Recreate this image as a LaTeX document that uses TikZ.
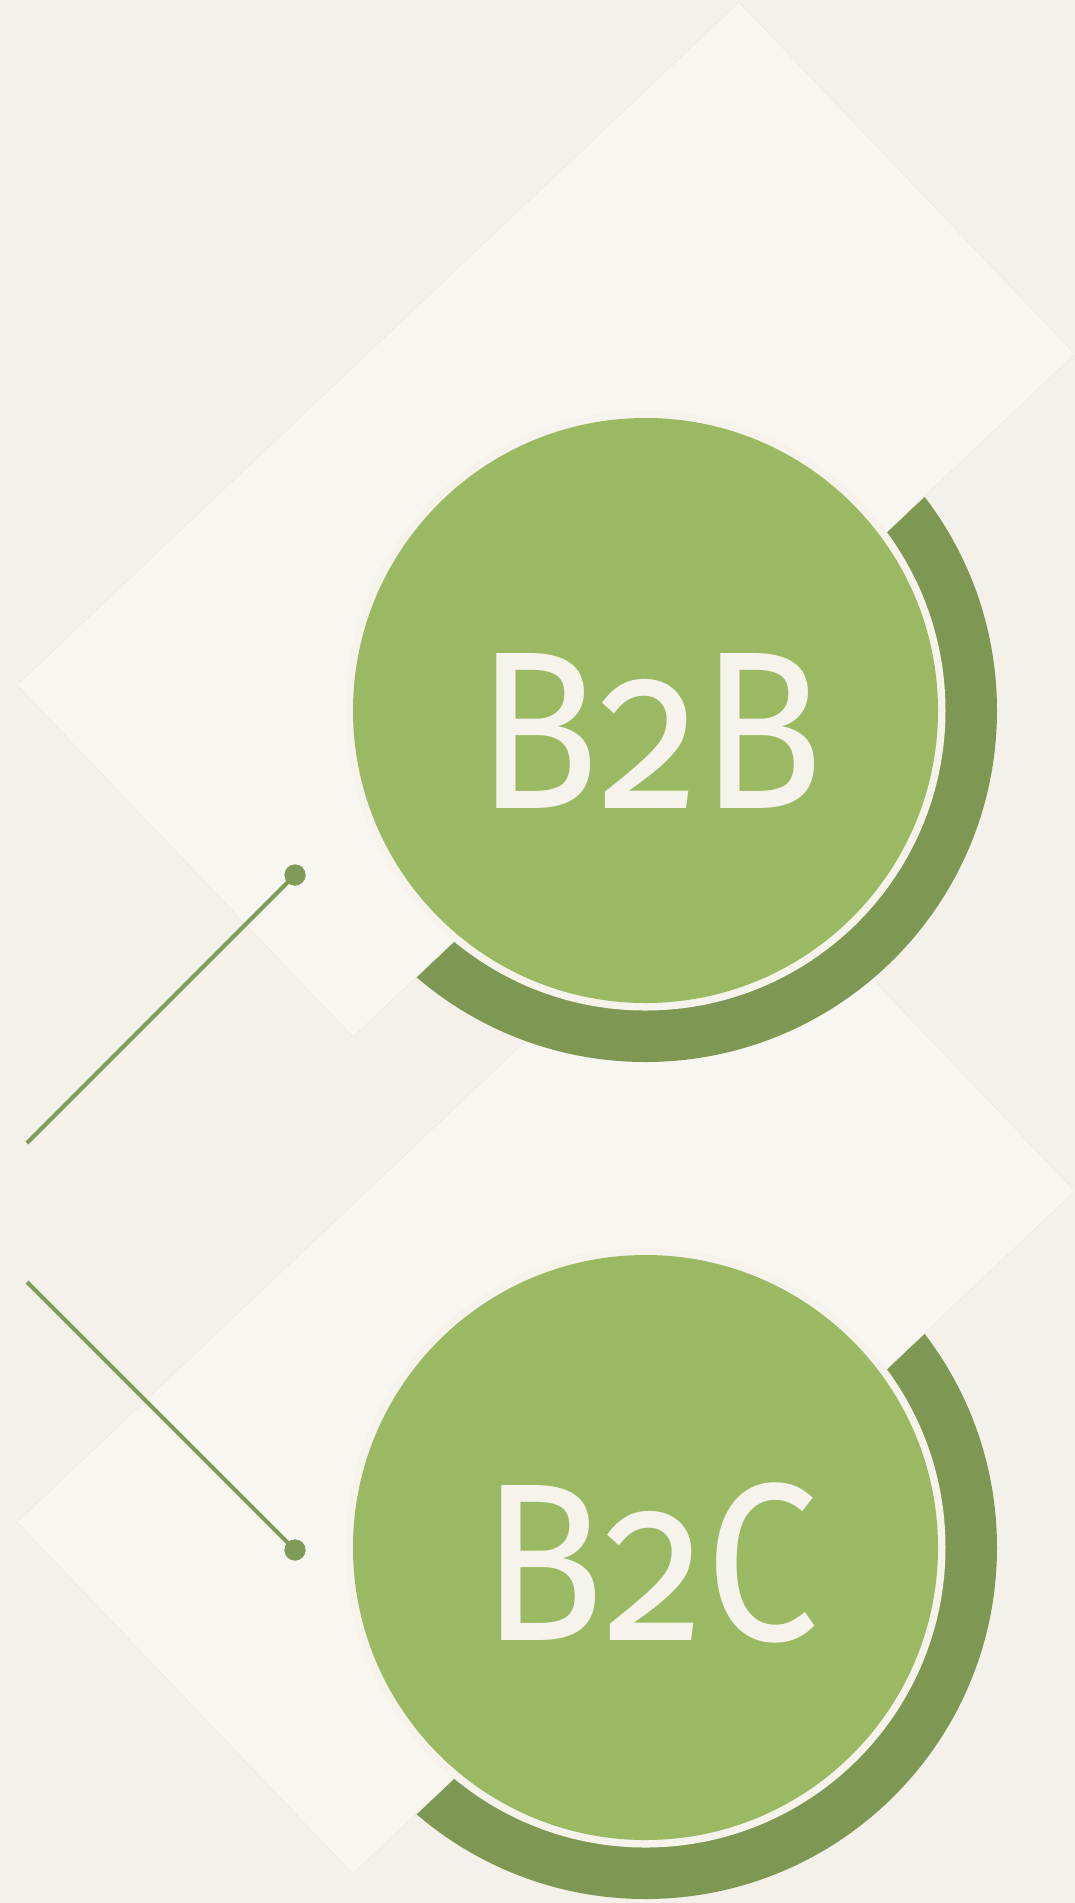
\documentclass[tikz,border=0pt]{standalone}
\usepackage{fontspec}
\setmainfont{Fira Sans}[Numbers=OldStyle]
\definecolor{bg}{HTML}{F4F1EA}
\definecolor{dia}{HTML}{F8F6F1}
\definecolor{diaedge}{HTML}{EDEAE2}
\definecolor{leaf}{HTML}{9AB962}
\definecolor{moss}{HTML}{7E9854}
\definecolor{cream}{HTML}{F5F3EC}
\definecolor{linkc}{HTML}{809A57}
\begin{document}
\begin{tikzpicture}[x=0.5pt,y=-0.5pt,
  diamondbox/.style={fill=dia,draw=diaedge,line width=0.3pt},
  darkdisc/.style={fill=moss},
  ringdisc/.style={fill=cream},
  greendisc/.style={fill=leaf},
  lbl/.style={text=cream,inner sep=0pt,anchor=base,font=\fontsize{112.5pt}{112.5pt}\selectfont},
  dotnode/.style={circle,fill=linkc,inner sep=0pt,minimum size=10.5pt},
  link/.style={draw=linkc,line width=2.1pt}]
\fill[bg] (0,0) rectangle (1075,1903);
\useasboundingbox (0,0) rectangle (1075,1903);
% group 2 (behind)
\coordinate (c2) at (645.5,1547.5);
\fill[darkdisc] (c2) circle[radius=351.5];
\path[diamondbox] (17,1522) -- (739,839) -- (1075,1191) -- (353,1874) -- cycle;
% group 1
\coordinate (c1) at (645.5,710.5);
\fill[darkdisc] (c1) circle[radius=351.5];
\path[diamondbox] (17,685) -- (739,2) -- (1075,354) -- (353,1037) -- cycle;
% green discs
\fill[ringdisc] (c1) circle[radius=300];
\fill[greendisc] (c1) circle[radius=292.5];
\fill[ringdisc] (c2) circle[radius=300];
\fill[greendisc] (c2) circle[radius=292.5];
% labels
\node[lbl] (t1) at (650,808) {\scalebox{0.9}[1]{B2B}};
\node[lbl] (t2) at (650,1640) {\scalebox{0.9}[1]{B2C}};
% connectors
\coordinate (e1) at (27,1143);
\coordinate (e2) at (27,1282);
\node[dotnode] (d1) at (295,875) {};
\node[dotnode] (d2) at (295,1550) {};
\draw[link] (e1) -- (d1.center);
\draw[link] (e2) -- (d2.center);
\node[dotnode] at (d1) {};
\node[dotnode] at (d2) {};
\end{tikzpicture}
\end{document}
